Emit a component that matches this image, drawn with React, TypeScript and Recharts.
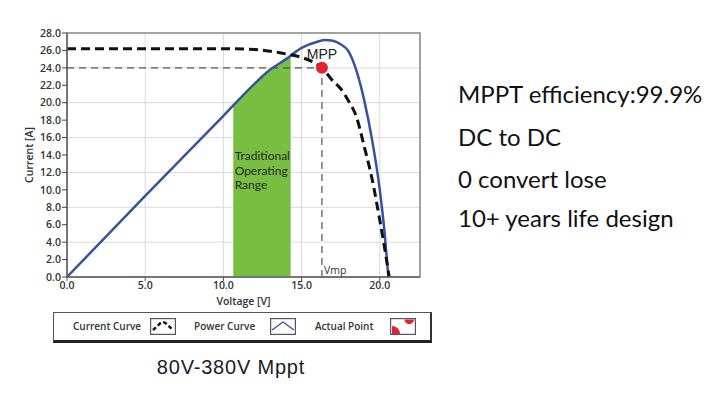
import React from 'react';
import {
  ComposedChart,
  Line,
  Area,
  Scatter,
  XAxis,
  YAxis,
  CartesianGrid,
  ReferenceLine,
  ReferenceDot,
  ReferenceArea,
} from 'recharts';

// I-V curve (dashed black)
const currentVoltage = [0, 5, 10, 12, 13, 14, 15, 16, 16.3, 17, 17.5, 18, 18.5, 19, 19.5, 20, 20.3, 20.6];
const currentAmps = [26.2, 26.2, 26.2, 26.1, 25.9, 25.6, 25.2, 24.4, 24.0, 22.5, 21.6, 20.2, 18.4, 15.0, 11.3, 6.5, 3.4, 0];

// power curve (blue)
const powerVoltage = [0, 5, 10, 12, 13, 14, 15, 16, 16.5, 17, 17.5, 18, 18.5, 19, 19.5, 20, 20.3, 20.55];
const powerAmps = [0, 9.3, 18.5, 22.2, 23.8, 25.0, 26.3, 27.0, 27.2, 27.1, 26.7, 25.9, 23.7, 20.3, 15.8, 10.0, 5.2, 0];

// traditional operating range (green band under power curve)
const rangeVoltage = [10.63, 11, 12, 13, 14, 14.3];
const rangeAmps = [19.6, 20.3, 22.2, 23.8, 25.0, 25.3];

const mppVoltage = [16.3];
const mppCurrent = [24.0];

const xTicks = [0, 5, 10, 15, 20];
const yTicks = [0, 2, 4, 6, 8, 10, 12, 14, 16, 18, 20, 22, 24, 26, 28];
const rangeLabel = ['Traditional', 'Operating', 'Range'];
const legendLabels = ['Current Curve', 'Power Curve', 'Actual Point'];
const features = ['MPPT efficiency:99.9%', 'DC to DC', '0 convert lose', '10+ years life design'];
const caption = '80V-380V Mppt';

const currentData = currentVoltage.map((v, i) => ({ v, a: currentAmps[i] }));
const powerData = powerVoltage.map((v, i) => ({ v, a: powerAmps[i] }));
const rangeData = rangeVoltage.map((v, i) => ({ v, a: rangeAmps[i] }));
const mppData = mppVoltage.map((v, i) => ({ v, a: mppCurrent[i] }));

const tickStyle = { fontSize: 10.5, fill: '#333', fontWeight: 600, fontFamily: 'Open Sans' };

const RangeText = (props: any) => {
  const { x, y } = props.viewBox;
  return (
    <g>
      {rangeLabel.map((t, i) => (
        <text key={t} x={x} y={y + i * 14.4} fontFamily="Lato" fontSize={12} fill="#2a2a2a">
          {t}
        </text>
      ))}
    </g>
  );
};

const VmpText = (props: any) => {
  const { x, y } = props.viewBox;
  return (
    <text x={x + 2} y={y - 3} fontFamily="Open Sans" fontSize={10.5} fill="#333">
      Vmp
    </text>
  );
};

const LegendIcon = ({ kind }: { kind: number }) => (
  <svg width={26} height={17} style={{ display: 'block' }}>
    <rect x={0.6} y={0.6} width={24.8} height={15.8} fill="#fff" stroke="#555" strokeWidth={1.2} />
    {kind === 0 && (
      <path d="M3 12 L10 5.5 Q13 3 16 5.5 L23 12" fill="none" stroke="#111" strokeWidth={2.4} strokeDasharray="4 2.5" />
    )}
    {kind === 1 && <path d="M2 12 L13 4 L24 12" fill="none" stroke="#3653A3" strokeWidth={1.4} />}
    {kind === 2 && (
      <g fill="#E1232B">
        <path d="M2 16 L2 8 A8 8 0 0 1 10 16 Z" />
        <path d="M14.5 1.5 A4.75 4.75 0 0 0 24 1.5 Z" />
      </g>
    )}
  </svg>
);

const legendPos = [
  { text: 19, icon: 96 },
  { text: 140, icon: 216 },
  { text: 261, icon: 336 },
];

export default function App() {
  return (
    <div style={{ position: 'absolute', left: 0, top: 0, width: 720, height: 393, background: '#fff' }}>
      <ComposedChart width={720} height={393} margin={{ top: 33, right: 300, bottom: 91, left: 17 }}>
        <CartesianGrid stroke="#dadada" strokeWidth={1} />
        <ReferenceArea x1={0} x2={22.57} y1={0} y2={28} fill="none" stroke="#8a8a8a" strokeWidth={1.5} />
        <XAxis
          type="number"
          dataKey="v"
          domain={[0, 22.57]}
          ticks={xTicks}
          allowDataOverflow
          tickFormatter={(v: number) => v.toFixed(1)}
          tick={tickStyle}
          tickSize={4}
          tickMargin={1}
          axisLine={{ stroke: '#666', strokeWidth: 1.5 }}
          tickLine={{ stroke: '#555' }}
          height={25}
          label={{
            value: 'Voltage [V]',
            position: 'insideBottom',
            offset: -3,
            style: { fontSize: 10.5, fill: '#333', fontWeight: 600, fontFamily: 'Open Sans' },
          }}
        />
        <YAxis
          type="number"
          domain={[0, 28]}
          ticks={yTicks}
          tickFormatter={(v: number) => v.toFixed(1)}
          tick={tickStyle}
          tickSize={5}
          tickMargin={1}
          axisLine={{ stroke: '#666', strokeWidth: 1.5 }}
          tickLine={{ stroke: '#444' }}
          width={50}
          label={{
            value: 'Current [A]',
            angle: -90,
            position: 'insideLeft',
            offset: 12,
            style: { textAnchor: 'middle', fontSize: 10.5, fill: '#333', fontWeight: 600, fontFamily: 'Open Sans' },
          }}
        />
        <Area
          data={rangeData}
          dataKey="a"
          type="monotone"
          fill="#78BE43"
          fillOpacity={1}
          stroke="none"
          baseValue={0}
          isAnimationActive={false}
        />
        <ReferenceLine
          segment={[{ x: 0, y: mppCurrent[0] }, { x: mppVoltage[0], y: mppCurrent[0] }]}
          stroke="#555"
          strokeWidth={1.2}
          strokeDasharray="7 5"
        />
        <ReferenceLine
          segment={[{ x: mppVoltage[0], y: 0 }, { x: mppVoltage[0], y: mppCurrent[0] }]}
          stroke="#555"
          strokeWidth={1.2}
          strokeDasharray="7 5"
        />
        <ReferenceDot x={10.72} y={13.4} r={0} stroke="none" label={<RangeText />} />
        <ReferenceDot x={mppVoltage[0]} y={0} r={0} stroke="none" label={<VmpText />} />
        <Line
          data={powerData}
          dataKey="a"
          type="monotone"
          stroke="#3653A3"
          strokeWidth={2.5}
          dot={false}
          isAnimationActive={false}
        />
        <Line
          data={currentData}
          dataKey="a"
          type="monotone"
          stroke="#111"
          strokeWidth={3}
          strokeDasharray="9 5"
          dot={false}
          isAnimationActive={false}
        />
        <Scatter
          data={mppData}
          dataKey="a"
          fill="#E1232B"
          isAnimationActive={false}
          shape={(p: any) => <circle cx={p.cx} cy={p.cy} r={6} fill="#E1232B" />}
        />
        <ReferenceDot
          x={mppVoltage[0]}
          y={mppCurrent[0]}
          r={0}
          stroke="none"
          label={{ value: 'MPP', position: 'top', offset: 9, fontSize: 14, fill: '#222', fontFamily: 'Liberation Sans' }}
        />
      </ComposedChart>

      <div
        style={{
          position: 'absolute',
          left: 53,
          top: 312,
          width: 376,
          height: 27,
          borderTop: '1.5px solid #555',
          borderLeft: '1.5px solid #555',
          borderRight: '2px solid #333',
          borderBottom: '3px solid #222',
          fontFamily: 'Open Sans',
          fontWeight: 600,
          fontSize: 10,
          color: '#333',
        }}
      >
        {legendLabels.map((t, i) => (
          <React.Fragment key={t}>
            <div style={{ position: 'absolute', left: legendPos[i].text, top: 5, whiteSpace: 'nowrap', lineHeight: '16px' }}>{t}</div>
            <div style={{ position: 'absolute', left: legendPos[i].icon, top: 5 }}>
              <LegendIcon kind={i} />
            </div>
          </React.Fragment>
        ))}
      </div>

      <svg width={720} height={393} style={{ position: 'absolute', left: 0, top: 0, pointerEvents: 'none' }}>
        {features.map((t, i) => (
          <text key={t} x={458} y={[103, 146, 188, 227][i]} fontFamily="Lato" fontSize={24} fill="#111">
            {t}
          </text>
        ))}
        <text x={231} y={374} textAnchor="middle" fontFamily="Liberation Sans" fontSize={20} letterSpacing={0.8} fill="#1c1c28">
          {caption}
        </text>
      </svg>
    </div>
  );
}
